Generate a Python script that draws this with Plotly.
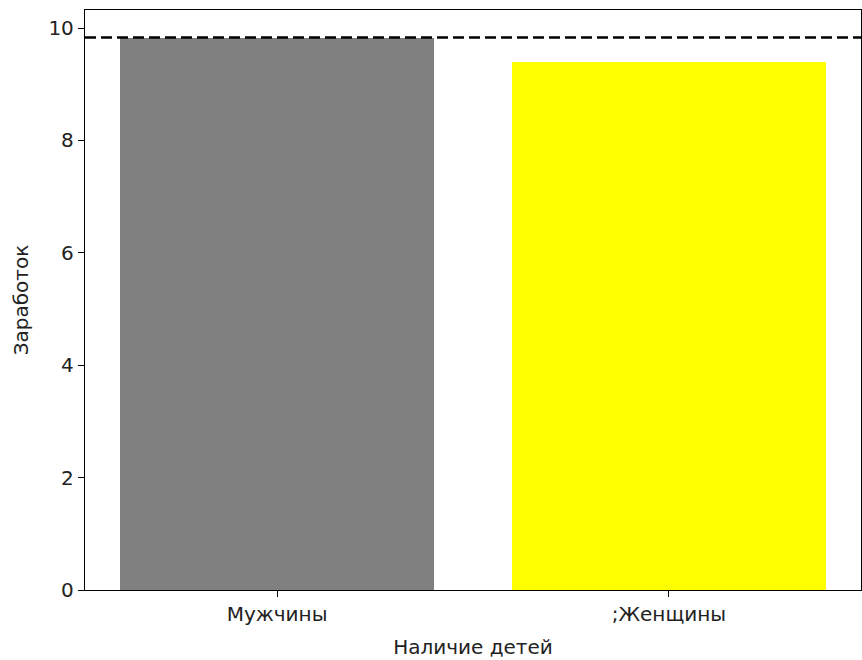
import plotly.graph_objects as go

categories = ["Мужчины", ";Женщины"]
earnings = [9.83, 9.39]
bar_colors = ["#808080", "#ffff00"]
reference_line = 9.83
y_ticks = [0, 2, 4, 6, 8, 10]

fig = go.Figure()
fig.add_trace(go.Bar(
    x=categories, y=earnings, width=0.8,
    marker=dict(color=bar_colors, line=dict(width=0)),
    showlegend=False, hoverinfo="x+y",
))
fig.add_shape(type="line", xref="paper", yref="y", x0=0, x1=1,
              y0=reference_line, y1=reference_line,
              line=dict(color="black", width=2.5, dash="11px,5px"))

font = dict(family="DejaVu Sans", size=20, color="#222222")
fig.update_layout(
    width=862, height=660,
    margin=dict(l=85, r=1, t=10, b=70),
    plot_bgcolor="white", paper_bgcolor="white",
    font=font,
    bargap=0,
    xaxis=dict(
        range=[-0.49, 1.49], showgrid=False, zeroline=False,
        showline=True, linecolor="black", linewidth=1.3, mirror=True,
        ticks="outside", ticklen=6, tickcolor="black", tickwidth=1.2,
        title=dict(text="Наличие детей", standoff=14, font=font),
    ),
    yaxis=dict(
        range=[0, max(earnings) * 1.05], showgrid=False, zeroline=False,
        showline=True, linecolor="black", linewidth=1.3, mirror=True,
        ticks="outside", ticklen=6, tickcolor="black", tickwidth=1.2,
        tickvals=y_ticks, ticktext=[str(v) for v in y_ticks],
        title=dict(text="Заработок", standoff=14, font=font),
    ),
)

fig.write_html("out.html", config={"displayModeBar": False},
               post_script="document.body.style.margin='0';")
